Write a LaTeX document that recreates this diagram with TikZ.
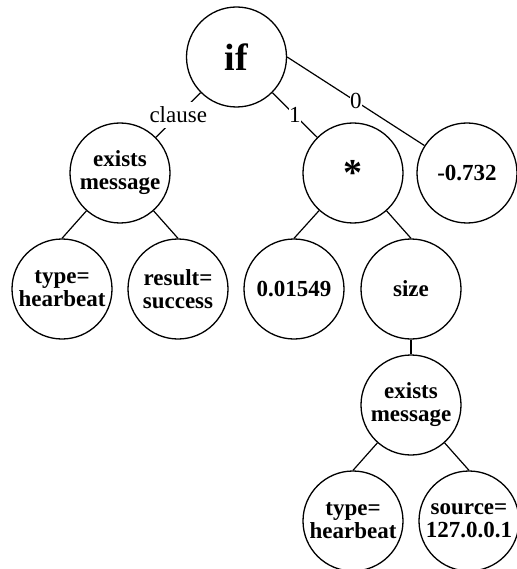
\documentclass[tikz,border=0pt]{standalone}
\usepackage{fontspec}
\setmainfont{Liberation Serif}
\begin{document}
\begin{tikzpicture}[x=1pt,y=-1pt,
  vertex/.style={circle, draw, line width=1.3pt, minimum size=100pt, inner sep=0pt,
    align=center, font=\bfseries\fontsize{23}{23}\selectfont},
  bigvertex/.style={vertex, font=\bfseries\fontsize{38}{38}\selectfont},
  branch/.style={line width=1.2pt},
  lbl/.style={fill=white, inner sep=0.5pt, font=\fontsize{23}{23}\selectfont}]
\useasboundingbox (0,0) rectangle (516,569);

% nodes of the expression tree
\node[bigvertex] (if)  at (236.5,57)  {if};
\node[vertex]    (ex1) at (120,173)   {exists\\message};
\node[bigvertex] (mul) at (353,173)   {*};
\node[vertex]    (neg) at (467,173)   {-0.732};
\node[vertex]    (t1)  at (62,289)    {type=\\hearbeat};
\node[vertex]    (res) at (178,289)   {result=\\success};
\node[vertex]    (num) at (294,289)   {0.01549};
\node[vertex]    (sz)  at (411,289)   {size};
\node[vertex]    (ex2) at (411,405)   {exists\\message};
\node[vertex]    (t2)  at (353,521)   {type=\\hearbeat};
\node[vertex]    (src) at (469,521)   {source=\\127.0.0.1};

% labelled branches of the conditional
\draw[branch] (if) -- node[lbl, inner sep=5pt] {clause} (ex1);
\draw[branch] (if) -- node[lbl] {1} (mul);
\draw[branch] (if.east) -- node[lbl] {0} (neg);

% plain branches
\draw[branch] (ex1) -- (t1.north);
\draw[branch] (ex1) -- (res.north);
\draw[branch] (mul) -- (num.north);
\draw[branch] (mul) -- (sz.north);
\draw[branch] (sz) -- (ex2.north);
\draw[branch] (ex2) -- (t2.north);
\draw[branch] (ex2) -- (src.north);
\end{tikzpicture}
\end{document}
